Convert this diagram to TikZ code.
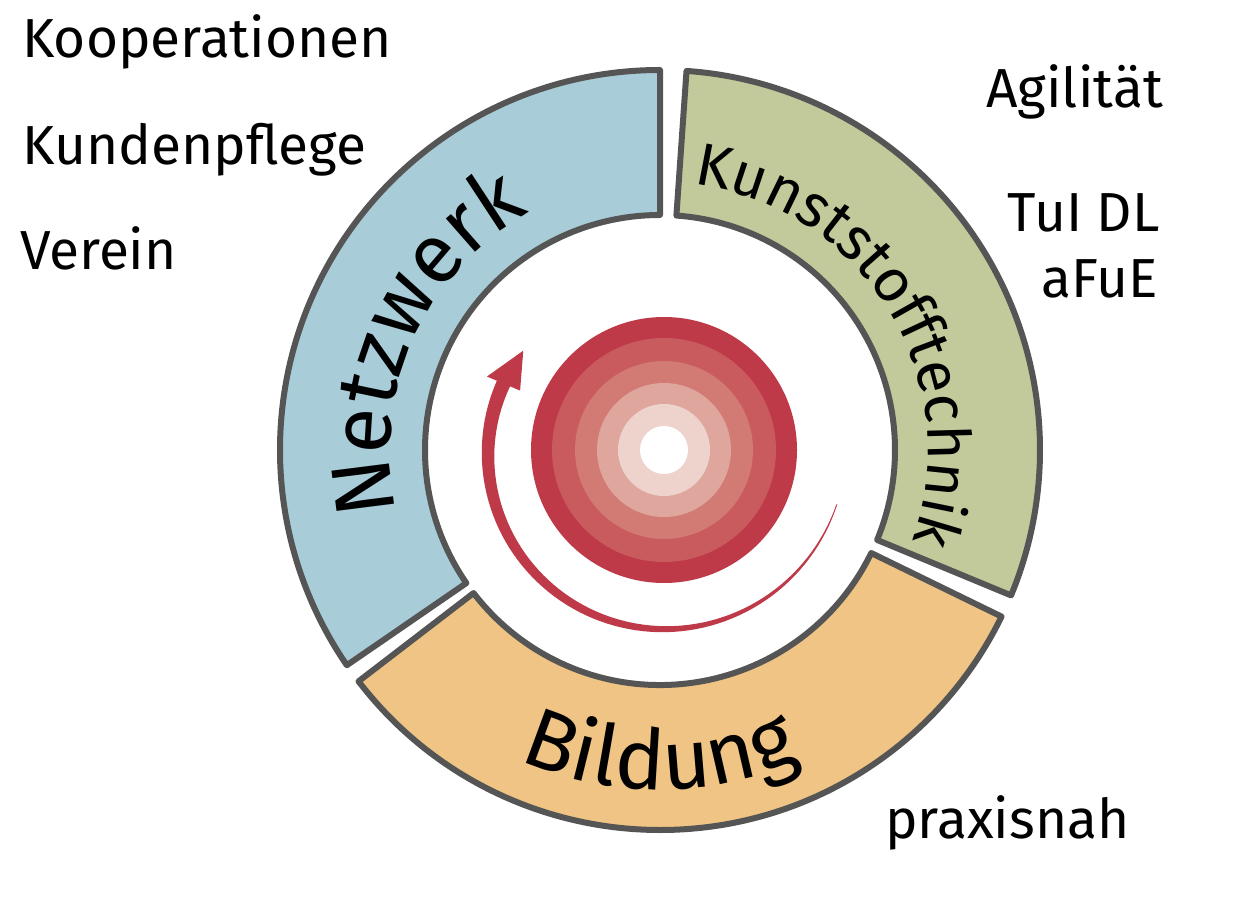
\documentclass[tikz,border=0pt]{standalone}
\usepackage{fontspec}
\setmainfont{Fira Sans}
\usetikzlibrary{decorations.text}
\definecolor{cblue}{HTML}{A9CDD8}
\definecolor{cgreen}{HTML}{C2C99A}
\definecolor{corange}{HTML}{EFC484}
\definecolor{cborder}{HTML}{555555}
\definecolor{r1}{HTML}{BE3A48}
\definecolor{r2}{HTML}{C95B5E}
\definecolor{r3}{HTML}{D27A74}
\definecolor{r4}{HTML}{DEA69C}
\definecolor{r5}{HTML}{EDD3CC}
\tikzset{seg/.style={draw=cborder,line width=6pt,line join=round},
 lab/.style={font=\fontsize{55}{55}\selectfont,inner sep=0pt},
 arctext/.style={decorate,decoration={text along path,text align=center}}}
\begin{document}
\begin{tikzpicture}[x=1pt,y=1pt]
\useasboundingbox (0,0) rectangle (1236,900);
\begin{scope}[shift={(660,450)}]
\draw[seg,fill=cblue] (90:380) arc[start angle=90,end angle=214.5,radius=380] -- (214.5:235) arc[start angle=214.5,end angle=90,radius=235] -- cycle;
\draw[seg,fill=cgreen] (86:380) arc[start angle=86,end angle=-22.5,radius=380] -- (-22.5:235) arc[start angle=-22.5,end angle=86,radius=235] -- cycle;
\draw[seg,fill=corange] (217.5:380) arc[start angle=217.5,end angle=334,radius=380] -- (334:235) arc[start angle=334,end angle=217.5,radius=235] -- cycle;
\path[arctext,decoration={text={|\fontsize{84}{84}\selectfont|Netzwerk}}] (212:270) arc[start angle=212,end angle=100,radius=270];
\path[arctext,decoration={text={|\fontsize{60}{60}\selectfont|Kunststofftechnik}}] (97:268) arc[start angle=97,end angle=-34,radius=268];
\path[arctext,decoration={text={|\fontsize{84}{84}\selectfont|Bildung}}] (225:340) arc[start angle=225,end angle=315,radius=340];
\end{scope}
\begin{scope}[shift={(664,450)}]
\fill[r1] (0,0) circle[radius=133];
\fill[r2] (0,0) circle[radius=112];
\fill[r3] (0,0) circle[radius=89];
\fill[r4] (0,0) circle[radius=67];
\fill[r5] (0,0) circle[radius=46];
\fill[white] (0,0) circle[radius=24];
\end{scope}
\begin{scope}[shift={(660,450)}]
\fill[r1] plot[domain=0:1,samples=80] ({-17-187*\x}:{185-15*\x+0.4+6.8*\x}) -- plot[domain=1:0,samples=80] ({-17-187*\x}:{185-15*\x-0.4-6.8*\x}) -- cycle;
\fill[r1] (-203:188) -- (-216:169) -- (-203:152) -- cycle;
\end{scope}
\node[lab,anchor=base west] (k1) at (22,842) {Kooperationen};
\node[lab,anchor=base west] (k2) at (22,735) {Kundenpflege};
\node[lab,anchor=base west] (k3) at (20,630) {Verein};
\node[lab,anchor=base east] (a1) at (1163,792) {Agilität};
\node[lab,anchor=base east] (a2) at (1160,668) {TuI DL};
\node[lab,anchor=base east] (a3) at (1158,602) {aFuE};
\node[lab,anchor=base west] (p1) at (885,62) {praxisnah};
\end{tikzpicture}
\end{document}
